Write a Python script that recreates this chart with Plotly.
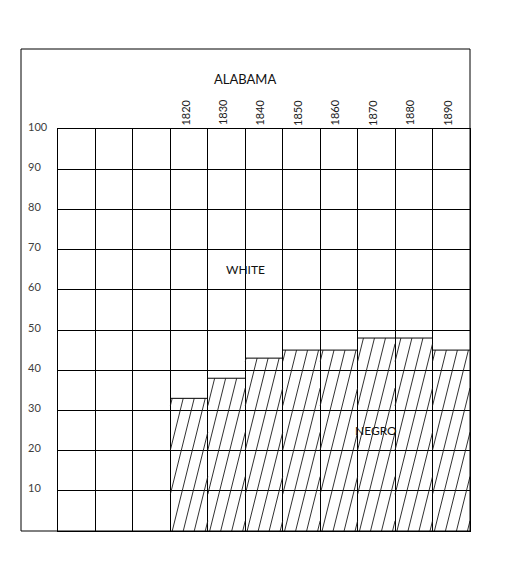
import plotly.graph_objects as go

# ---- data ----
years = ["1820", "1830", "1840", "1850", "1860", "1870", "1880", "1890"]
negro_pct = [33, 38, 43, 45, 45, 48, 48, 45]
empty_cols = 3          # blank columns before the first year
y_ticks = [10, 20, 30, 40, 50, 60, 70, 80, 90, 100]
title = "ALABAMA"
label_white = "WHITE"
label_negro = "NEGRO"

FONT = "Lato"
n_cols = empty_cols + len(years)
xs = [empty_cols + i + 0.5 for i in range(len(years))]

W, H = 508, 569
ml, mr, mt, mb = 58, 38, 129, 38
pw, ph = W - ml - mr, H - mt - mb

fig = go.Figure()

# bars (no fill, no outline; top edges drawn separately)
fig.add_trace(go.Bar(
    x=xs, y=negro_pct, width=1,
    marker=dict(color="rgba(0,0,0,0)", line=dict(width=0)),
    hoverinfo="skip", showlegend=False,
))

# bar top edges
tx, ty = [], []
for xc, top in zip(xs, negro_pct):
    tx += [xc - 0.5, xc + 0.5, None]
    ty += [top, top, None]
fig.add_trace(go.Scatter(x=tx, y=ty, mode="lines",
                         line=dict(color="black", width=1),
                         hoverinfo="skip", showlegend=False))

# steep diagonal hatching inside each bar
spacing = 0.294      # horizontal spacing (x units)
slope = 0.0267       # x units per y unit
hx, hy = [], []
for xc, top in zip(xs, negro_pct):
    left, right = xc - 0.5, xc + 0.5
    k = -40
    while True:
        c = left + k * spacing + 0.05
        if c > right:
            break
        y0 = max(0.0, (left - c) / slope)
        y1 = min(float(top), (right - c) / slope)
        if y1 > y0:
            hx += [c + slope * y0, c + slope * y1, None]
            hy += [y0, y1, None]
        k += 1
fig.add_trace(go.Scatter(x=hx, y=hy, mode="lines",
                         line=dict(color="#1a1a1a", width=0.9),
                         hoverinfo="skip", showlegend=False))

annotations = []
# y labels
for v in y_ticks:
    annotations.append(dict(x=(26 - ml) / pw, y=v, xref="paper", yref="y", text=str(v),
                            showarrow=False, xanchor="left", yanchor="middle",
                            yshift=3, font=dict(family=FONT, size=11, color="#404040")))
# year labels
for x, yr in zip(xs, years):
    annotations.append(dict(x=x, y=1.041, xref="x", yref="paper", text=yr,
                            showarrow=False, textangle=-90, xanchor="center",
                            yanchor="middle", xshift=-4,
                            font=dict(family=FONT, size=11, color="#222222")))
annotations.append(dict(x=5, y=1.149, xref="x", yref="paper", text=title,
                        showarrow=False, font=dict(family=FONT, size=13, color="#111111")))
annotations.append(dict(x=5, y=65, xref="x", yref="y", text=label_white,
                        showarrow=False, font=dict(family=FONT, size=12, color="#111111")))
annotations.append(dict(x=8.5, y=25, xref="x", yref="y", text=label_negro,
                        showarrow=False, font=dict(family=FONT, size=12, color="#111111")))

fig.update_layout(
    width=W, height=H,
    margin=dict(l=ml, r=mr, t=mt, b=mb),
    paper_bgcolor="white", plot_bgcolor="white",
    annotations=annotations,
    shapes=[dict(type="rect", xref="paper", yref="paper",
                 x0=(21 - ml) / pw, x1=1, y0=0, y1=(H - mb - 49) / ph,
                 line=dict(color="black", width=1), fillcolor="rgba(0,0,0,0)")],
    xaxis=dict(range=[0, n_cols], tickvals=list(range(n_cols + 1)), showticklabels=False,
               showgrid=True, gridcolor="black", gridwidth=1, zeroline=False,
               showline=True, mirror=True, linecolor="black", linewidth=1, ticks=""),
    yaxis=dict(range=[0, 100], tickvals=y_ticks, showticklabels=False,
               showgrid=True, gridcolor="black", gridwidth=1, zeroline=False,
               showline=True, mirror=True, linecolor="black", linewidth=1, ticks=""),
    bargap=0,
)

fig.write_html("out.html")
